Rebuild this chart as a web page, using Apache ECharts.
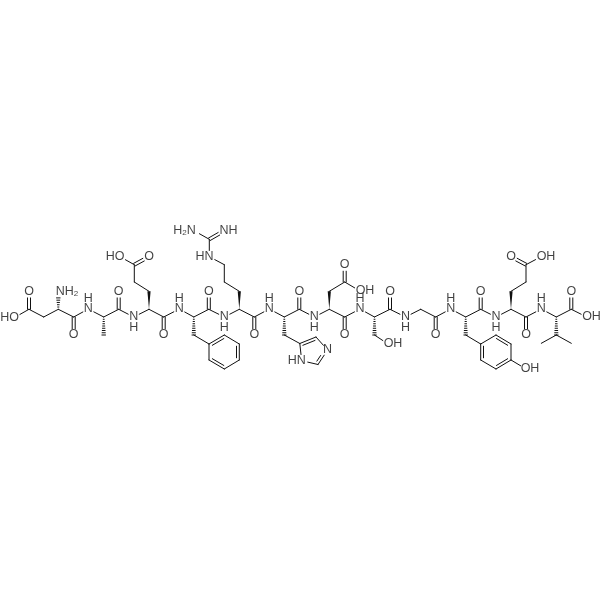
<!DOCTYPE html>
<html><head><meta charset="utf-8">
<style>html,body{margin:0;padding:0;background:#fff}#c{width:600px;height:600px}</style>
<script src="https://cdn.jsdelivr.net/npm/echarts@6/dist/echarts.min.js"></script>
</head><body><div id="c"></div>
<script>
// Atom positions: [id, x, y]
const carbons = [
 ['c1',29,309.3],['c2',43.7,317],['a1',58.3,309.3],['c3',73.7,317],
 ['a2',103.7,317],['me2',103.7,335],['c4',118.7,309.3],
 ['a3',149,309.3],['g1',149,291.3],['g2',134.3,282],['g3',134.3,264.7],['c5',163.7,317],
 ['a4',193.8,317],['b4',193.8,335],['c6',208.8,309.3],
 ['p1',209,344],['p2',224.3,335],['p3',239.3,344],['p4',239.3,360],['p5',224.3,369],['p6',209,360],
 ['a5',239.3,309.3],['r1',239.3,291.3],['r2',224.3,282],['r3',224.3,264.7],['gu',209.3,239.3],['c7',254.3,317],
 ['a6',284.3,317],['b6',284.3,335],['i1',299.8,343.5],['i2',316,337],['i4',318,364.5],['c8',299.3,309.3],
 ['a7',329.3,309.3],['d1',329.3,291.3],['d2',344.7,282],['c9',344.7,317],
 ['a8',374.5,317],['b8',374.5,335],['c10',390,309.3],
 ['g10',420.7,309.3],['c11',435.7,317],
 ['a9',465.7,317],['b9',465.7,335],['c12',480.7,309.3],
 ['t1',480.7,344],['t2',496,335],['t3',511,344],['t4',511,360],['t5',496,369],['t6',480.7,360],
 ['a10',511,309.3],['e1',511,291.3],['e2',526,282],['e3',526,264.7],['c13',526,317],
 ['a11',556.3,317],['v1',556.3,335],['v2',541.3,343.3],['v3',571.3,343.3],['c14',571.3,309.3]
];
const heteroAtoms = [
 ['oh1',14.5,317.5],['o1',29,291.7],['n1',58.3,291.7],['o2',73.7,335],
 ['n2',88.3,309],['o3',118.7,291.7],['n3',133.7,317],
 ['oh3',120,256.7],['o4',149,256.7],['o5',163.7,335],
 ['n4',179.3,309],['o6',208.8,291.7],['n5',224.3,317],
 ['ne',209.3,256.7],['nh1',194,230.7],['nh2',224.3,230.7],['o7',254.3,335],
 ['n6',269.3,309],['i3',327.6,350],['i5',301.7,360.7],['o8',299.3,291.7],
 ['n7',314.3,317],['o9',344.7,265],['oh7',360,291],['o10',344.7,335],
 ['n8',360,309],['oh8',388,344],['o11',390,291.7],
 ['n9',405.5,317],['o12',435.7,335],
 ['n10',450.7,309],['oh10',526,369],['o13',480.7,291.7],
 ['n11',496,317],['o14',511,256.7],['oh11',541,256.7],['o15',526,335],
 ['n12',541.3,309],['o16',571.3,291.7],['oh12',586.7,317]
];
// Bonds: s single, d centred double, w wedge, h hashed, R ring double with inner line
const bonds = [
 ['oh1','c1','s'],['c1','o1','d'],['c1','c2','s'],['c2','a1','s'],['a1','n1','h'],['a1','c3','s'],['c3','o2','d'],['c3','n2','s'],
 ['n2','a2','s'],['a2','me2','h'],['a2','c4','s'],['c4','o3','d'],['c4','n3','s'],
 ['n3','a3','s'],['a3','g1','w'],['g1','g2','s'],['g2','g3','s'],['g3','oh3','s'],['g3','o4','d'],['a3','c5','s'],['c5','o5','d'],['c5','n4','s'],
 ['n4','a4','s'],['a4','b4','h'],['b4','p1','s'],['p1','p2','R'],['p2','p3','s'],['p3','p4','R'],['p4','p5','s'],['p5','p6','R'],['p6','p1','s'],
 ['a4','c6','s'],['c6','o6','d'],['c6','n5','s'],
 ['n5','a5','s'],['a5','r1','w'],['r1','r2','s'],['r2','r3','s'],['r3','ne','s'],['ne','gu','s'],['gu','nh1','s'],['gu','nh2','d'],['a5','c7','s'],['c7','o7','d'],['c7','n6','s'],
 ['n6','a6','s'],['a6','b6','h'],['b6','i1','s'],['i1','i2','R'],['i2','i3','s'],['i3','i4','R'],['i4','i5','s'],['i5','i1','s'],['a6','c8','s'],['c8','o8','d'],['c8','n7','s'],
 ['n7','a7','s'],['a7','d1','w'],['d1','d2','s'],['d2','o9','d'],['d2','oh7','s'],['a7','c9','s'],['c9','o10','d'],['c9','n8','s'],
 ['n8','a8','s'],['a8','b8','h'],['b8','oh8','s'],['a8','c10','s'],['c10','o11','d'],['c10','n9','s'],
 ['n9','g10','s'],['g10','c11','s'],['c11','o12','d'],['c11','n10','s'],
 ['n10','a9','s'],['a9','b9','h'],['b9','t1','s'],['t1','t2','s'],['t2','t3','R'],['t3','t4','s'],['t4','t5','R'],['t5','t6','s'],['t6','t1','R'],['t4','oh10','s'],
 ['a9','c12','s'],['c12','o13','d'],['c12','n11','s'],
 ['n11','a10','s'],['a10','e1','w'],['e1','e2','s'],['e2','e3','s'],['e3','o14','d'],['e3','oh11','s'],['a10','c13','s'],['c13','o15','d'],['c13','n12','s'],
 ['n12','a11','s'],['a11','v1','h'],['v1','v2','s'],['v1','v3','s'],['a11','c14','s'],['c14','o16','d'],['c14','oh12','s']
];
// Text labels: [text, x, y]
const atomLabels = [
 ['HO',9.5,318],['O',29,291.7],['NH{s|2}',67,291.7],['O',73.7,335],
 ['N',88.3,308.5],['H',88.3,298.3],['O',118.7,291.7],['N',133.7,317],['H',133.7,328],
 ['HO',115,256.7],['O',149,256.7],['O',163.7,335],
 ['N',179.3,308.5],['H',179.3,298.3],['O',208.8,291.7],['N',224.3,317],['H',224.3,328],
 ['HN',204.5,256.7],['H{s|2}N',184.5,230.7],['NH',228.5,230.7],['O',254.3,335],
 ['N',269.3,308.5],['H',269.3,298.3],['N',327.6,350],['HN',296.7,361],['O',299.3,291.7],
 ['N',314.3,317],['H',314.3,328],['O',344.7,265],['OH',365,291],['O',344.7,335],
 ['N',360,308.5],['H',360,298.3],['OH',393,344],['O',390,291.7],
 ['N',405.5,317],['H',405.5,328],['O',435.7,335],
 ['N',450.7,308.5],['H',450.7,298.3],['OH',530,369],['O',480.7,291.7],
 ['N',496,317],['H',496,328],['O',511,256.7],['OH',546,256.7],['O',526,335],
 ['N',541.3,308.5],['H',541.3,298.3],['O',571.3,291.7],['OH',591.5,317]
];

const pos = {};
carbons.forEach(a => pos[a[0]] = {x:a[1], y:a[2], het:false});
heteroAtoms.forEach(a => pos[a[0]] = {x:a[1], y:a[2], het:true});
const INK = '#111', LW = 1, TRIM = 6.2;

function renderBond(params, api) {
  const b = bonds[params.dataIndex];
  const A = pos[b[0]], B = pos[b[1]], kind = b[2];
  let p = api.coord([A.x, A.y]), q = api.coord([B.x, B.y]);
  const dx = q[0]-p[0], dy = q[1]-p[1], len = Math.hypot(dx,dy), ux = dx/len, uy = dy/len, nx = -uy, ny = ux;
  if (A.het) p = [p[0]+ux*TRIM, p[1]+uy*TRIM];
  if (B.het) q = [q[0]-ux*TRIM, q[1]-uy*TRIM];
  const line = (a,c) => ({type:'line', shape:{x1:a[0],y1:a[1],x2:c[0],y2:c[1]}, style:{stroke:INK, lineWidth:LW, lineCap:'round'}});
  const kids = [];
  if (kind === 's') kids.push(line(p,q));
  else if (kind === 'd') {
    const o = 1.5;
    kids.push(line([p[0]+nx*o,p[1]+ny*o],[q[0]+nx*o,q[1]+ny*o]));
    kids.push(line([p[0]-nx*o,p[1]-ny*o],[q[0]-nx*o,q[1]-ny*o]));
  } else if (kind === 'R') {
    kids.push(line(p,q));
    const o = 2.8, s = 2.2;
    kids.push(line([p[0]+nx*o+ux*s,p[1]+ny*o+uy*s],[q[0]+nx*o-ux*s,q[1]+ny*o-uy*s]));
  } else if (kind === 'w') {
    const w = 1.6;
    kids.push({type:'polygon', shape:{points:[p,[q[0]+nx*w,q[1]+ny*w],[q[0]-nx*w,q[1]-ny*w]]}, style:{fill:INK}});
  } else if (kind === 'h') {
    const L = Math.hypot(q[0]-p[0],q[1]-p[1]), n = Math.max(3, Math.round(L/2.3));
    for (let i=1;i<=n;i++){
      const t = i/n, w = 0.3+1.5*t, cx = p[0]+ux*L*t, cy = p[1]+uy*L*t;
      kids.push(line([cx+nx*w,cy+ny*w],[cx-nx*w,cy-ny*w]));
    }
  }
  return {type:'group', children:kids};
}

const chart = echarts.init(document.getElementById('c'), null, {renderer:'canvas'});
chart.setOption({
  animation:false,
  backgroundColor:'#fff',
  grid:{left:0,right:0,top:0,bottom:0},
  xAxis:{type:'value',min:0,max:600,show:false},
  yAxis:{type:'value',min:0,max:600,inverse:true,show:false},
  series:[
   {type:'custom',coordinateSystem:'cartesian2d',clip:false,silent:true,
    data:bonds.map((b,i)=>[pos[b[0]].x,pos[b[0]].y]),
    renderItem:renderBond},
   {type:'scatter',symbolSize:0,silent:true,
    data:atomLabels.map(l=>({value:[l[1],l[2]],name:l[0]})),
    label:{show:true,position:'inside',align:'center',verticalAlign:'middle',
      formatter:p=>p.name,color:INK,fontFamily:'Liberation Sans',fontSize:12.5,
      rich:{s:{fontSize:8,verticalAlign:'bottom',padding:[5,0,0,0],color:INK,fontFamily:'Liberation Sans'}}}}
  ]
});
</script></body></html>
